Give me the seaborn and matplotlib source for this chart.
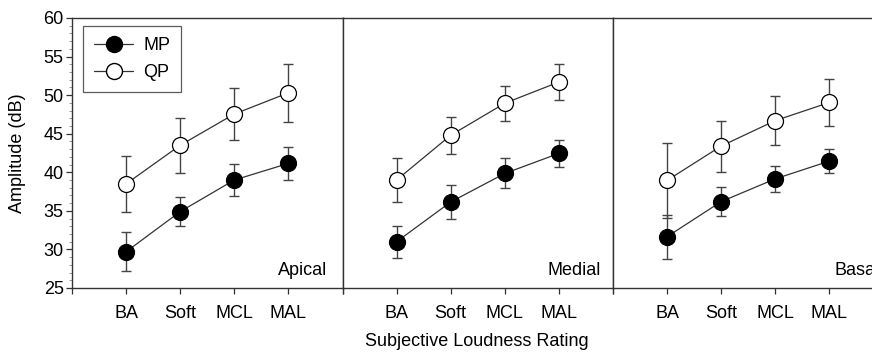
import matplotlib
matplotlib.use("Agg")
import matplotlib.pyplot as plt
import seaborn as sns
import pandas as pd
import numpy as np
from matplotlib.lines import Line2D
from matplotlib.ticker import MultipleLocator

sns.set_theme(style="ticks")
plt.rcParams['font.family'] = ['Liberation Sans', 'DejaVu Sans']
plt.rcParams['text.color'] = 'black'
plt.rcParams['xtick.labelcolor'] = 'black'
plt.rcParams['ytick.labelcolor'] = 'black'

categories = ["BA", "Soft", "MCL", "MAL"]
regions = ["Apical", "Medial", "Basal"]

apical_mp = [29.7, 34.9, 39.0, 41.15]
apical_mp_err = [2.55, 1.9, 2.05, 2.15]
apical_qp = [38.5, 43.5, 47.55, 50.3]
apical_qp_err = [3.65, 3.6, 3.35, 3.8]

medial_mp = [31.0, 36.15, 39.85, 42.45]
medial_mp_err = [2.05, 2.15, 1.95, 1.75]
medial_qp = [39.0, 44.8, 48.95, 51.7]
medial_qp_err = [2.85, 2.4, 2.25, 2.3]

basal_mp = [31.65, 36.2, 39.15, 41.45]
basal_mp_err = [2.85, 1.9, 1.65, 1.6]
basal_qp = [38.95, 43.4, 46.7, 49.05]
basal_qp_err = [4.85, 3.3, 3.15, 3.05]

panels = {
    "Apical": (apical_mp, apical_mp_err, apical_qp, apical_qp_err),
    "Medial": (medial_mp, medial_mp_err, medial_qp, medial_qp_err),
    "Basal": (basal_mp, basal_mp_err, basal_qp, basal_qp_err),
}
label_x = {"Apical": 0.945, "Medial": 0.955, "Basal": 0.985}

W, H = 872, 356
FS = 13
MS = 11.5
fig = plt.figure(figsize=(W / 100, H / 100), dpi=100)

x0, pw = 72, 270.5
ytop, ybot = 18, 288
axes = []
for i, reg in enumerate(regions):
    left = (x0 + i * pw) / W
    ax = fig.add_axes([left, (H - ybot) / H, pw / W, (ybot - ytop) / H])
    axes.append(ax)

spine_col = "#333333"
err_col = "#444444"
line_col = "#333333"
xpos = [1, 2, 3, 4]

for i, (ax, reg) in enumerate(zip(axes, regions)):
    mp, mpe, qp, qpe = panels[reg]
    for vals, errs, face in [(qp, qpe, "white"), (mp, mpe, "black")]:
        df = pd.DataFrame({"x": xpos, "amp": vals, "err": errs})
        ax.errorbar(df.x, df.amp, yerr=df.err, fmt="none", ecolor=err_col,
                    elinewidth=1.0, capsize=3.4, capthick=1.0, zorder=2)
        sns.lineplot(data=df, x="x", y="amp", color=line_col,
                     linewidth=0.9, marker="o", markersize=MS,
                     markerfacecolor=face, markeredgecolor="black",
                     markeredgewidth=0.9, ax=ax, legend=False, zorder=3)

    ax.set_xlim(0, 5)
    ax.set_ylim(25, 60)
    ax.set_xticks([0, 1, 2, 3, 4, 5])
    ax.set_xticklabels([""] + categories + [""])
    ax.set_xlabel("")
    ax.set_ylabel("")
    for s in ax.spines.values():
        s.set_visible(True)
        s.set_color(spine_col)
        s.set_linewidth(1.0)
    if i == 2:
        ax.spines["right"].set_visible(False)
    ax.tick_params(axis="x", direction="out", length=4, width=0.9,
                   color=spine_col, pad=8, labelsize=FS, labelcolor="black")
    if i == 0:
        ax.set_yticks(np.arange(25, 61, 5))
        ax.yaxis.set_minor_locator(MultipleLocator(1))
        ax.tick_params(axis="y", which="major", direction="out", length=4,
                       width=0.9, color=spine_col, pad=2, labelsize=FS,
                       labelcolor="black")
        ax.tick_params(axis="y", which="minor", direction="out", length=2,
                       width=0.6, color="#888888")
    else:
        ax.tick_params(axis="y", which="both", left=False, labelleft=False)
    ax.text(label_x[reg], 0.048, reg, transform=ax.transAxes, ha="right",
            va="baseline", fontsize=FS, color="black")
    ax.set_facecolor("white")

handles = [
    Line2D([0], [0], color=line_col, lw=0.9, marker="o", markersize=MS,
           markerfacecolor="black", markeredgecolor="black"),
    Line2D([0], [0], color=line_col, lw=0.9, marker="o", markersize=MS,
           markerfacecolor="white", markeredgecolor="black"),
]
leg = axes[0].legend(handles, ["MP", "QP"], loc="upper left",
                     bbox_to_anchor=(0.04, 0.97), fontsize=FS,
                     frameon=True, fancybox=False, handlelength=2.2,
                     borderpad=0.6, labelspacing=0.55, handletextpad=0.55,
                     borderaxespad=0)
leg.get_frame().set_edgecolor("#333333")
leg.get_frame().set_linewidth(0.9)
for t in leg.get_texts():
    t.set_color("black")

fig.text(18 / W, 1 - 153 / H, "Amplitude (dB)", rotation=90,
         ha="center", va="center", fontsize=FS, color="black")
fig.text(477 / W, 1 - 342 / H, "Subjective Loudness Rating",
         ha="center", va="center", fontsize=FS, color="black")

fig.savefig("out.png", dpi=100)
